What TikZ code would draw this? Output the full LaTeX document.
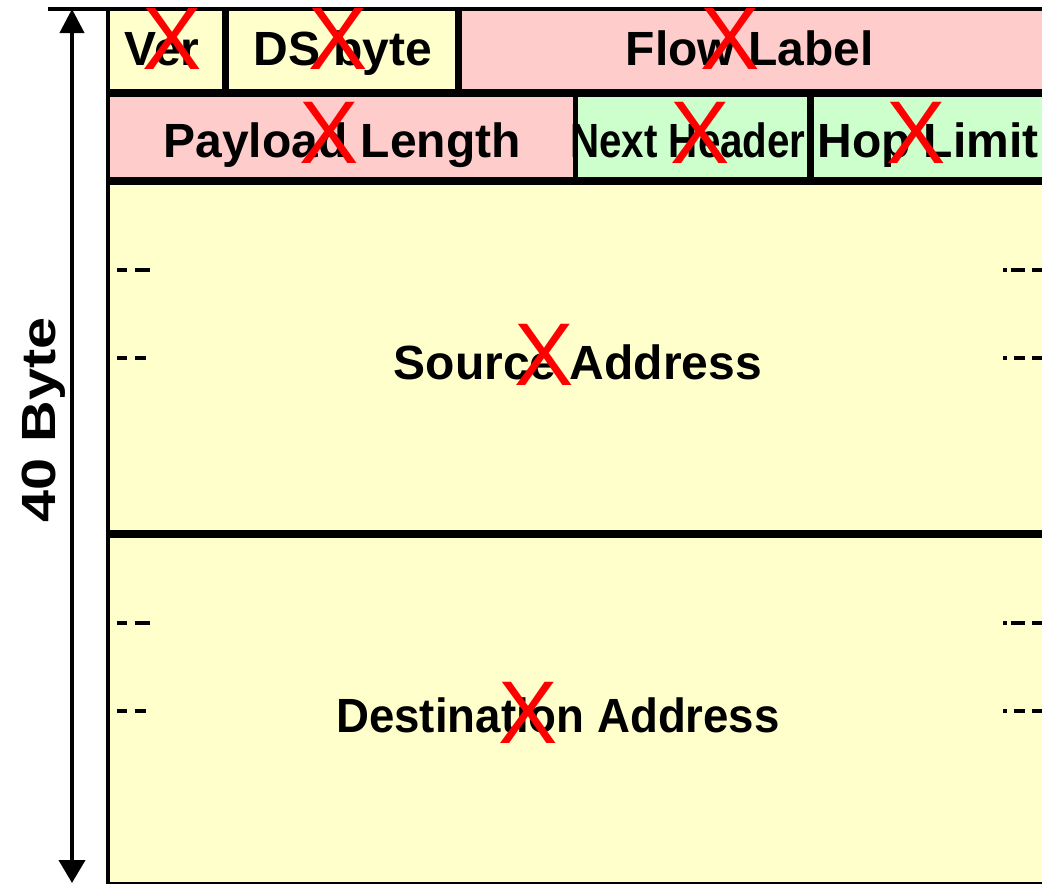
\documentclass[tikz,border=0pt]{standalone}
\usepackage{fontspec}
\setmainfont{Liberation Sans}
\usetikzlibrary{arrows.meta}
\definecolor{cellyellow}{HTML}{FFFFCC}
\definecolor{cellpink}{HTML}{FFCCCC}
\definecolor{cellgreen}{HTML}{CCFFCC}
\definecolor{crossred}{HTML}{FF0000}
\begin{document}
\begin{tikzpicture}[x=1pt,y=-1pt,
  field/.style={font=\fontsize{48}{50}\selectfont\bfseries, anchor=base, inner sep=0pt},
  cross/.style={font=\fontsize{89}{90}\selectfont, text=crossred, inner sep=0pt},
  frame/.style={line width=#1, line cap=butt},
  gap/.style={line width=4pt, line cap=butt}]
\useasboundingbox (0,0) rectangle (1042,884);

% header cells
\fill[cellyellow] (108,9) rectangle (226,93);
\fill[cellyellow] (226,9) rectangle (459,93);
\fill[cellpink]   (459,9) rectangle (1042,93);
\fill[cellpink]   (108,93) rectangle (576,181);
\fill[cellgreen]  (576,93) rectangle (811,181);
\fill[cellgreen]  (811,93) rectangle (1042,181);
\fill[cellyellow] (108,181) rectangle (1042,884);

% frame lines
\draw[frame=4pt] (48,9) -- (1042,9);
\draw[frame=4pt] (108,7) -- (108,884);
\draw[frame=8pt] (108,93) -- (1042,93);
\draw[frame=8pt] (108,181) -- (1042,181);
\draw[frame=8pt] (108,534) -- (1042,534);
\draw[frame=2pt] (108,883) -- (1042,883);
\draw[frame=7pt] (225.5,9) -- (225.5,93);
\draw[frame=7pt] (458.5,9) -- (458.5,93);
\draw[frame=5pt] (575.5,93) -- (575.5,181);
\draw[frame=7pt] (810.5,93) -- (810.5,181);

% continuation marks of the 128-bit address fields
\foreach \y in {270,623} {
  \draw[gap] (117,\y) -- (127,\y);
  \draw[gap] (135,\y) -- (150,\y);
  \draw[gap] (1003,\y) -- (1007,\y);
  \draw[gap] (1011,\y) -- (1025,\y);
  \draw[gap] (1032,\y) -- (1042,\y);
}
\foreach \y in {358,711} {
  \draw[gap] (117,\y) -- (127,\y);
  \draw[gap] (135,\y) -- (146,\y);
  \draw[gap] (1003,\y) -- (1007,\y);
  \draw[gap] (1014,\y) -- (1025,\y);
  \draw[gap] (1032,\y) -- (1042,\y);
}

% field names
\node[field] (ver) at (162,65) {Ver};
\node[field] (ds) at (343,65) {DS byte};
\node[field] (flow) at (750,65) {Flow Label};
\node[field] (plen) at (342,157) {Payload Length};
\node[field] (nxt) at (688,157) {\scalebox{0.84}[1]{Next Header}};
\node[field] (hop) at (928,157) {Hop Limit};
\node[field] (src) at (578,379) {Source Address};
\node[field] (dst) at (558,732) {\scalebox{0.95}[1]{Destination Address}};

% total length
\coordinate (atop) at (72,9);
\coordinate (abot) at (72,883);
\draw[line width=4pt, {Triangle[length=24pt,width=24pt]}-{Triangle[length=23pt,width=26pt]}] (atop) -- (abot);
\node[field, rotate=90] (len) at (55,420) {\scalebox{1.2}[1]{40 Byte}};

% crosses over the fields
\node[cross] (xver) at (172,39) {X};
\node[cross] (xds) at (338,39) {X};
\node[cross] (xflow) at (730,39) {X};
\node[cross] (xplen) at (329,133) {X};
\node[cross] (xnxt) at (700,133) {X};
\node[cross] (xhop) at (916,133) {X};
\node[cross] (xsrc) at (544,355) {X};
\node[cross] (xdst) at (528,713) {X};
\end{tikzpicture}
\end{document}
